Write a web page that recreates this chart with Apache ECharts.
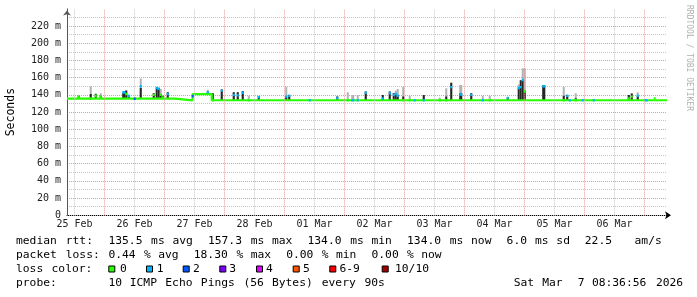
<!DOCTYPE html>
<html><head><meta charset="utf-8">
<script src="https://cdn.jsdelivr.net/npm/echarts@6/dist/echarts.min.js"></script>
<style>html,body{margin:0;padding:0;background:#fff}#c{width:697px;height:297px}</style>
</head><body><div id="c"></div>
<script>
// ---- axis / tick data (hours since 25 Feb 00:00) ----
const dayLabels = ['25 Feb','26 Feb','27 Feb','28 Feb','01 Mar','02 Mar','03 Mar','04 Mar','05 Mar','06 Mar'];
const dayLabelHours = [12,36,60,84,108,132,156,180,204,228];
const midnightHours = [24,48,72,96,120,144,168,192,216,240];
const noonHours = [12,36,60,84,108,132,156,180,204,228];
const timeStart = 9.0, timeEnd = 249.0;
const yMax = 240;

// ---- median rtt (ms), step change points ----
const medHour  = [9.0, 52.3, 59.2, 66.9, 249.0];
const medValue = [135.6, 133.7, 141.0, 133.8, 133.8];

// ---- smoke spikes / loss marks ----
const spikeHour   = [13.7,18.5,20.5,22.5,31.7,32.7,33.7,36.1,38.5,43.7,44.9,45.7,46.5,47.3,49.3,59.3,65.3,67.3,70.9,75.7,77.3,79.3,81.7,85.7,96.7,97.9,106.1,117.1,121.3,123.3,125.3,128.5,135.3,138.1,139.7,140.5,141.3,143.5,146.1,148.1,151.7,158.1,160.7,162.7,166.5,170.7,175.3,178.1,185.3,189.7,190.5,191.3,192.1,199.7,207.7,209.1,210.1,212.5,215.3,219.7,233.7,234.9,237.3,240.7,244.1];
const spikeSpan   = [0.8,0.8,0.8,0.8,1.2,0.8,0.8,0.8,0.8,0.8,0.8,0.8,0.8,0.8,0.8,0.8,0.8,0.8,0.8,0.8,0.8,0.8,0.8,0.8,0.8,0.8,0.8,0.8,0.8,1.2,0.8,0.8,0.8,0.8,0.8,0.8,0.8,0.8,0.8,0.8,0.8,0.8,0.8,0.8,1.2,0.8,0.8,0.8,0.8,0.8,0.8,0.8,0.8,1.2,0.8,0.8,0.8,0.8,0.8,0.8,0.8,0.8,0.8,1.2,0.8];
const spikeTop    = [139,150,142,142,143,145,139,0,159,142,149,149,147,139,143,0,146,142,146.4,143,143,144.5,139,138.7,149.5,140,0,138,143,140,140,144,140,144,142,145,147,149.5,139,0,140,137,147.6,154,151.5,142,139,139,137,152,157,171,171,151.5,149.5,140,0,142,0,0,140,141.5,143,0,0];
const spikeDark   = [139,141,141,139,142,145,139,0,148,142,149,148,141,139,143,0,143,142,146.4,143,143,144.5,0,138.7,138,140,0,138,0,0,0,144,140,144,142,142,140,138,0,0,140,0,138,154,142,142,0,0,137,149,157,157,145,151.5,139,140,0,136,0,0,140,141.5,139,0,0];
const spikeMedian = [137.5,135.6,139,138,143,141,139,135.6,150,140,148,147,140,137,141,138.5,143,133.8,145,140,139.5,142.5,133.8,137.5,138,139,133.8,136.5,133.8,133.8,133.8,142.5,136,142,140,141,139,133.8,133.8,133.8,133.8,133.8,133.8,149,140.5,140,133.8,133.8,136.5,148,149,157.3,144,150,133.8,139,133.8,133.8,133.8,133.8,136,138,139,133.8,136];
const spikeLoss   = [0,0,0,0,1,0,1,2,1,0,1,1,0,0,1,2,1,0,1,1,1,1,0,1,1,1,1,1,0,1,1,1,1,1,1,1,1,0,0,1,1,0,0,1,1,1,1,0,1,1,1,1,0,1,0,1,1,0,1,1,0,0,1,1,0];

// ---- legend / statistics text ----
const lossLabels = ['0','1','2','3','4','5','6-9','10/10'];
const lossColors = ['#26ff00','#00b8ff','#0059ff','#7e00ff','#dd00ff','#ff5500','#ff0000','#a10000'];
const textLine1 = 'median rtt:  135.5 ms avg  157.3 ms max  134.0 ms min  134.0 ms now  6.0 ms sd  22.5   am/s';
const textLine2 = 'packet loss: 0.44 % avg  18.30 % max  0.00 % min  0.00 % now';
const textLine3 = 'loss color:';
const textLine4 = 'probe:       10 ICMP Echo Pings (56 Bytes) every 90s                  Sat Mar  7 08:36:56 2026';
const yAxisTitle = 'Seconds';
const watermark = 'RRDTOOL / TOBI OETIKER';

// ---- layout (positions only) ----
const textLeft = 16, colWidth = 7.11;
const swatchX = [108.8,146.5,183.2,219.8,256.5,293.2,329.8,382.2];
const swatchLabelX = [120,156.7,193,229.3,266,303,339.5,395];
const lineY = [241,255,269,283];

function baseAt(h){ let v = medValue[0]; for (let i=0;i<medHour.length;i++){ if (h>=medHour[i]) v = medValue[i]; } return v; }

const medData = medHour.map((h,i)=>[h, medValue[i]]);
const smokeData = spikeHour.map((h,i)=>[h, spikeSpan[i], spikeTop[i], spikeDark[i], baseAt(h)]);
const markData = spikeHour.map((h,i)=>[h, spikeSpan[i], spikeMedian[i], spikeLoss[i]]);

const MONO = 'DejaVu Sans Mono';
const textFont = '11.3px "DejaVu Sans Mono"';

function renderSmoke(params, api){
  const h = api.value(0), span = api.value(1), top = api.value(2), dark = api.value(3), base = api.value(4);
  const w = api.size([span, 0])[0];
  const kids = [];
  const bar = (hi, color) => {
    const p0 = api.coord([h, base]); const p1 = api.coord([h, hi]);
    kids.push({type:'rect', shape:{x:p0[0]-w/2, y:p1[1], width:w, height:p0[1]-p1[1]}, style:{fill:color}});
  };
  if (top > base) bar(top, '#b2b2b2');
  if (dark > base) bar(dark, '#262626');
  return {type:'group', children:kids};
}
function renderMark(params, api){
  const h = api.value(0), span = api.value(1), med = api.value(2), loss = api.value(3);
  const w = api.size([span, 0])[0];
  const p = api.coord([h, med]);
  return {type:'rect', shape:{x:p[0]-w/2, y:p[1]-1.2, width:w, height:2.4}, style:{fill:lossColors[loss]}};
}

const graphics = [];
function addLine(str, y){
  const re = /\S+/g; let m;
  while ((m = re.exec(str))) {
    graphics.push({type:'text', x:textLeft + m.index*colWidth, y:y, style:{text:m[0], font:textFont, fill:'#000', textVerticalAlign:'middle'}});
  }
}
addLine(textLine1, lineY[0]);
addLine(textLine2, lineY[1]);
addLine(textLine3, lineY[2]);
addLine(textLine4, lineY[3]);
lossLabels.forEach((t,i)=>{
  graphics.push({type:'rect', shape:{x:swatchX[i], y:lineY[2]-3, width:6, height:6}, style:{fill:lossColors[i], stroke:'#000', lineWidth:1}});
  graphics.push({type:'text', x:swatchLabelX[i], y:lineY[2], style:{text:t, font:textFont, fill:'#000', textVerticalAlign:'middle'}});
});
graphics.push({type:'text', x:689, y:5, rotation:-Math.PI/2, style:{text:watermark, font:'8px "DejaVu Sans Mono"', fill:'#b0b0b0', textVerticalAlign:'middle', textAlign:'left'}});

const chart = echarts.init(document.getElementById('c'), null, {renderer:'canvas'});
chart.setOption({
  animation:false,
  backgroundColor:'#ffffff',
  grid:{left:67, top:8.9, width:600, height:206.4, containLabel:false, outerBoundsMode:'none'},
  xAxis:{
    type:'value', min:timeStart, max:timeEnd,
    splitLine:{show:false},
    axisTick:{show:false},
    axisLine:{show:true, lineStyle:{color:'#000', width:1}, symbol:['none','arrow'], symbolSize:[6,6], symbolOffset:[0,4]},
    axisLabel:{customValues:dayLabelHours, formatter:(v)=>{const i=dayLabelHours.indexOf(Math.round(v)); return i>=0?dayLabels[i]:'';}, fontFamily:MONO, fontSize:10, color:'#222', margin:4, hideOverlap:false}
  },
  yAxis:[{
    type:'value', min:0, max:yMax, interval:20,
    name:yAxisTitle, nameLocation:'middle', nameRotate:90, nameGap:50,
    nameTextStyle:{fontFamily:MONO, fontSize:11.5, color:'#000'},
    splitLine:{show:true, showMaxLine:false, lineStyle:{color:'#e89a9a', type:[1,1], width:1}},
    axisTick:{show:false},
    axisLine:{show:true, lineStyle:{color:'#555', width:1}, symbol:['none','arrow'], symbolSize:[6,5], symbolOffset:[0,-1.5]},
    axisLabel:{showMaxLabel:false, formatter:(v)=> v===0 ? '0' : v + ' m', fontFamily:MONO, fontSize:10, color:'#222', margin:6},
    z:2
  },{
    type:'value', min:0, max:yMax, interval:10, position:'left',
    splitLine:{show:true, showMaxLine:false, lineStyle:{color:'#c6c6c6', type:[1,1], width:1}},
    axisTick:{show:false}, axisLine:{show:false}, axisLabel:{show:false},
    z:1
  }],
  series:[
    {type:'line', data:[], silent:true, z:1,
     markLine:{silent:true, symbol:['none','none'], animation:false, label:{show:false},
       lineStyle:{color:'#c6c6c6', type:[1,1], width:1},
       data:noonHours.map(v=>({xAxis:v}))}},
    {type:'line', data:[], silent:true, z:1,
     markLine:{silent:true, symbol:['none','none'], animation:false, label:{show:false},
       lineStyle:{color:'#e89a9a', type:[1,1], width:1},
       data:midnightHours.map(v=>({xAxis:v}))}},
    {type:'custom', z:3, silent:true, clip:true, renderItem:renderSmoke, data:smokeData},
    {type:'line', z:4, silent:true, step:'end', showSymbol:false, data:medData, lineStyle:{color:lossColors[0], width:2.2}, itemStyle:{color:lossColors[0]}},
    {type:'custom', z:5, silent:true, clip:true, renderItem:renderMark, data:markData}
  ],
  graphic:graphics
});
</script></body></html>
